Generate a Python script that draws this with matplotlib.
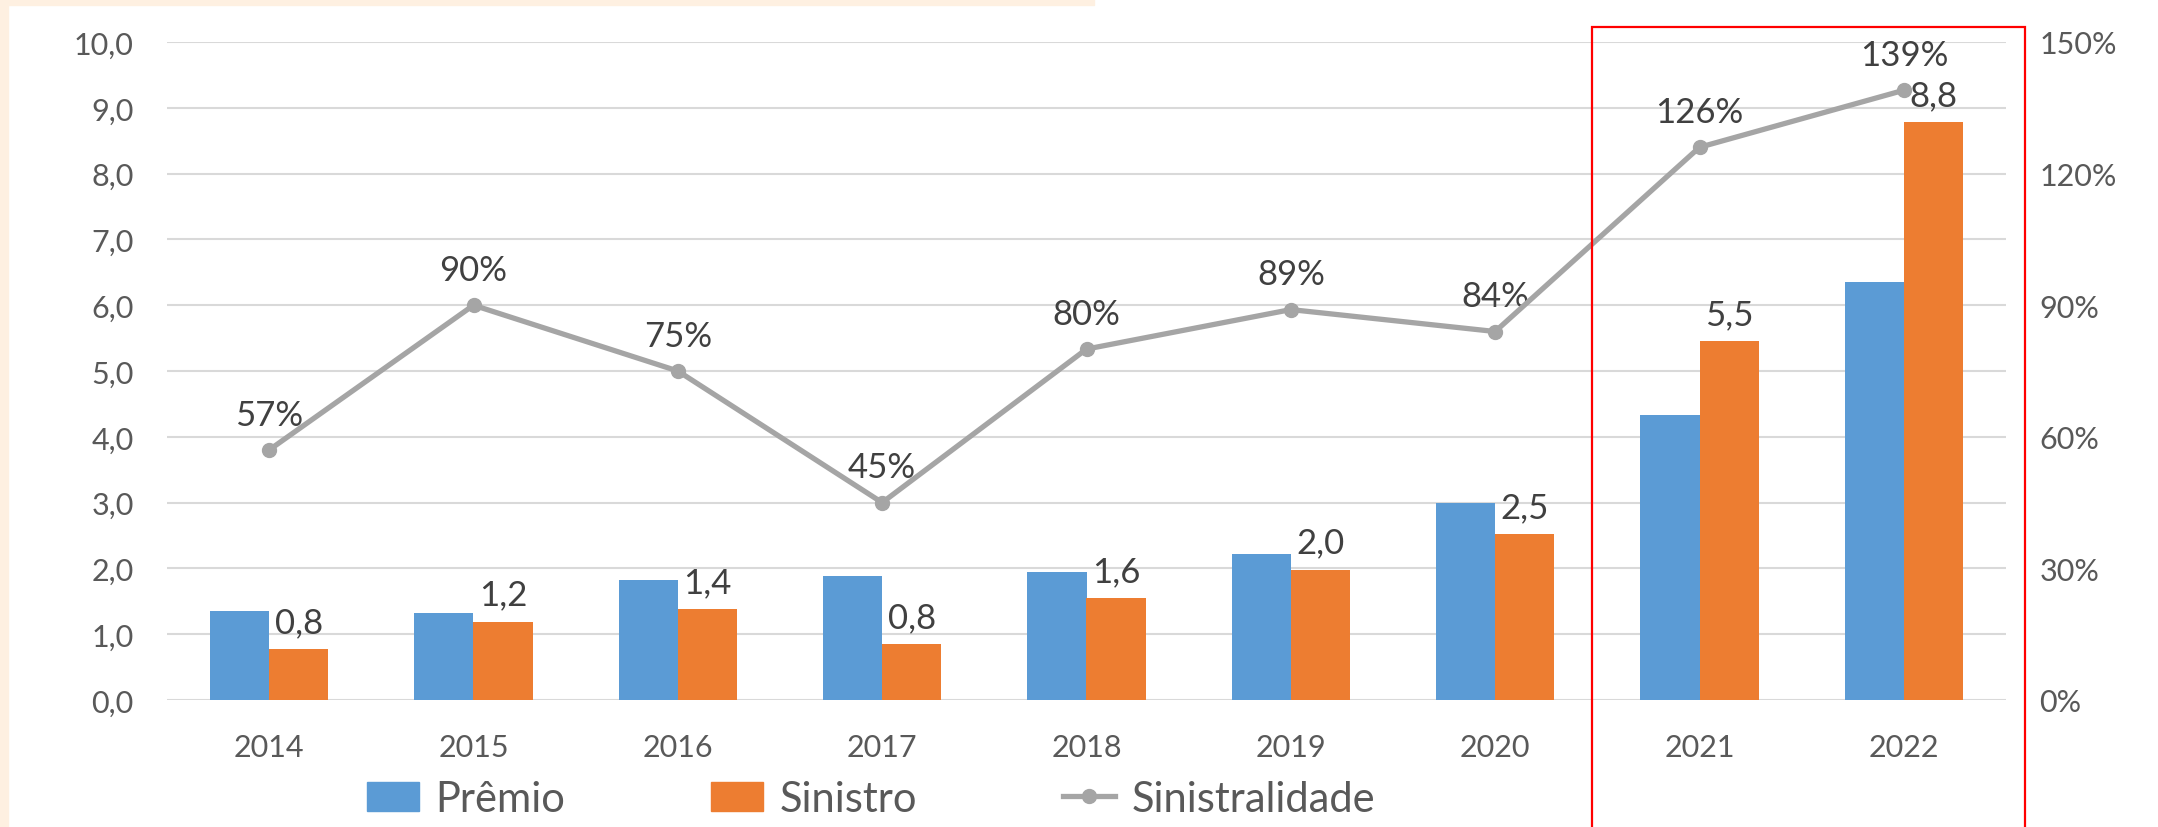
import matplotlib
matplotlib.use("Agg")
import matplotlib.pyplot as plt
from matplotlib.patches import Rectangle
from matplotlib.lines import Line2D
from matplotlib.ticker import FuncFormatter, MultipleLocator

# data
anos = ["2014", "2015", "2016", "2017", "2018", "2019", "2020", "2021", "2022"]
premio = [1.35, 1.32, 1.83, 1.88, 1.94, 2.22, 3.00, 4.33, 6.35]
sinistro = [0.77, 1.19, 1.38, 0.85, 1.55, 1.98, 2.52, 5.45, 8.78]
sinistro_labels = ["0,8", "1,2", "1,4", "0,8", "1,6", "2,0", "2,5", "5,5", "8,8"]
sinistralidade = [57, 90, 75, 45, 80, 89, 84, 126, 139]

AZUL = "#5B9BD5"
LARANJA = "#ED7D31"
CINZA = "#A5A5A5"
TXT = "#595959"
LBL = "#404040"
PESSEGO = "#FEF0E1"

plt.rcParams["font.family"] = ["Lato", "DejaVu Sans"]

fig = plt.figure(figsize=(21.58, 8.28), dpi=100)
fig.patch.set_facecolor("white")

# peach border pieces on the left and top of the image
fig.patches.append(Rectangle((0, 0), 8 / 2158, 1, transform=fig.transFigure,
                             color=PESSEGO, zorder=0))
fig.patches.append(Rectangle((0, 1 - 6 / 828), 1094 / 2158, 6 / 828,
                             transform=fig.transFigure, color=PESSEGO, zorder=0))

ax = fig.add_axes([167 / 2158, 1 - 701 / 828, (2006 - 167) / 2158, (701 - 43) / 828])
ax2 = ax.twinx()

x = list(range(len(anos)))
w = 0.29
ax.bar([i - w / 2 for i in x], premio, width=w, color=AZUL, zorder=3)
ax.bar([i + w / 2 for i in x], sinistro, width=w, color=LARANJA, zorder=3)

for i, (v, t) in enumerate(zip(sinistro, sinistro_labels)):
    ax.annotate(t, (i + w / 2, v), xytext=(0, 8), textcoords="offset points",
                ha="center", va="bottom", fontsize=25, color=LBL, zorder=5)

ax.set_xlim(-0.5, len(anos) - 0.5)
ax.set_ylim(0, 10)
ax.yaxis.set_major_locator(MultipleLocator(1))
ax.yaxis.set_major_formatter(FuncFormatter(lambda v, p: f"{v:.1f}".replace(".", ",")))
ax.set_xticks(x)
ax.set_xticklabels(anos)
ax.grid(axis="y", color="#D9D9D9", linewidth=1.5, zorder=0)
ax.set_axisbelow(True)

ax2.plot(x, sinistralidade, color=CINZA, linewidth=3.8, marker="o", markersize=10, zorder=4)
for i, v in enumerate(sinistralidade):
    ax2.annotate(f"{v}%", (i, v), xytext=(0, 14), textcoords="offset points",
                 ha="center", va="bottom", fontsize=25, color=LBL)
ax2.set_ylim(0, 150)
ax2.yaxis.set_major_locator(MultipleLocator(30))
ax2.yaxis.set_major_formatter(FuncFormatter(lambda v, p: f"{v:.0f}%"))

for a in (ax, ax2):
    for s in a.spines.values():
        s.set_visible(False)
    a.tick_params(length=0, labelsize=22, labelcolor=TXT, pad=24)

# red highlight box round 2021-2022
fig.patches.append(Rectangle((1592 / 2158, -0.01), (2025 - 1592) / 2158, 1 - 28 / 828 + 0.01,
                             transform=fig.transFigure, fill=False,
                             edgecolor="#FF0000", linewidth=1.6, zorder=10))

handles = [
    Rectangle((0, 0), 1, 1, color=AZUL),
    Rectangle((0, 0), 1, 1, color=LARANJA),
    Line2D([], [], color=CINZA, linewidth=3.8, marker="o", markersize=10),
]
fig.legend(handles, ["Prêmio", "Sinistro", "Sinistralidade"], loc="center",
           bbox_to_anchor=(871 / 2158, 1 - 800 / 828), ncol=3, frameon=False,
           fontsize=30, labelcolor=TXT, handlelength=1.25, handleheight=0.72,
           handletextpad=0.4, columnspacing=3.5)

fig.savefig("out.png", dpi=100, facecolor=fig.get_facecolor())
